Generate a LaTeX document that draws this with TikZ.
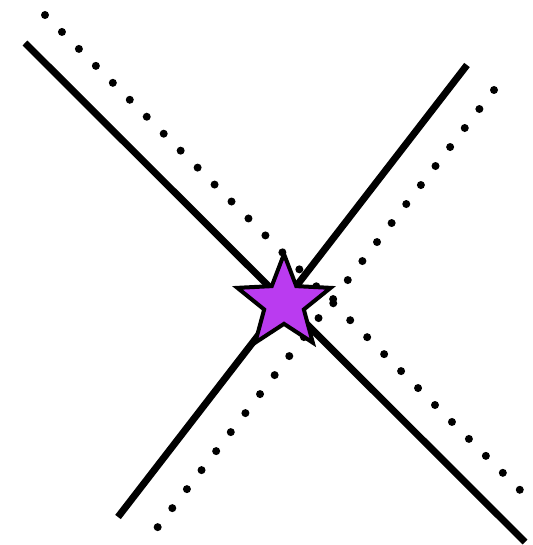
\documentclass[tikz,border=0pt]{standalone}
\usetikzlibrary{shapes.geometric}
\definecolor{starpurple}{RGB}{186,59,240}
\tikzset{
  solidline/.style={line width=7pt, line cap=butt},
  dotline/.style={line width=8pt, line cap=round, dash pattern=on 0pt off #1},
  starnode/.style={star, star points=5, star point ratio=2.35, minimum size=98pt, inner sep=0pt, fill=starpurple, draw=black, line width=4pt, line join=miter}
}
\begin{document}
\begin{tikzpicture}[x=1pt,y=-1pt]
\useasboundingbox (0,0) rectangle (532,545);
\coordinate (s1a) at (25,43);
\coordinate (s1b) at (525,542);
\coordinate (s2a) at (467,65);
\coordinate (s2b) at (118,517);
\coordinate (d1a) at (45,15);
\coordinate (d1b) at (521,491);
\coordinate (d2a) at (494,90);
\coordinate (d2b) at (157,528);
\draw[solidline] (s1a) -- (s1b);
\draw[solidline] (s2a) -- (s2b);
\draw[dotline=23.98pt] (d1a) -- (d1b);
\draw[dotline=23.98pt] (d2a) -- (d2b);
\node[starnode] (star) at (284,303) {};
\end{tikzpicture}
\end{document}
